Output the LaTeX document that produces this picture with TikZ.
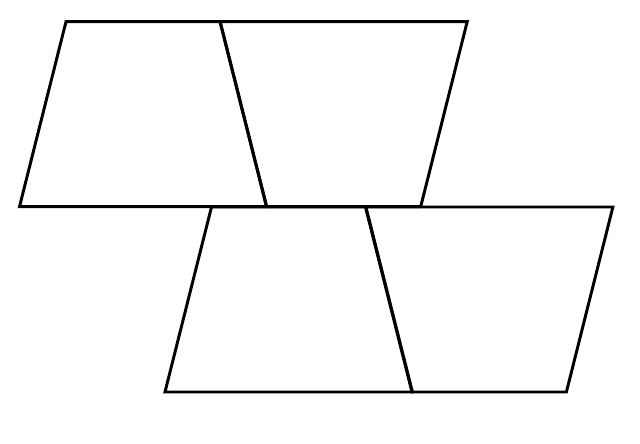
\documentclass[tikz,border=0pt]{standalone}
\usepackage{tikz}
\begin{document}
\begin{tikzpicture}[x=0.025cm,y=0.025cm,line width=2.1pt]
\def\nar{+(-77,0) -- +(77,0) -- +(123.5,-185) -- +(-123.5,-185) -- cycle}
\def\wid{+(-123.5,0) -- +(123.5,0) -- +(77,-185) -- +(-77,-185) -- cycle}
\useasboundingbox (0,0) rectangle (640,443);

\draw (143, 421.3) \nar;
\draw (343.7, 421.3) \wid;

\draw (288.5, 236) \nar;
\draw (489.4, 236) \wid;
\end{tikzpicture}
\end{document}
